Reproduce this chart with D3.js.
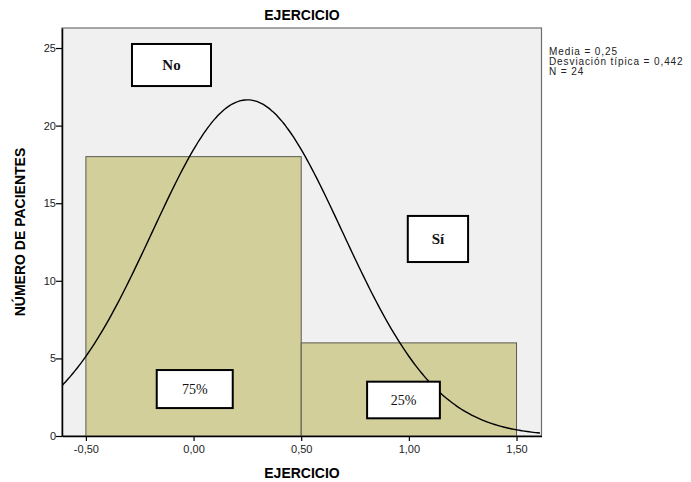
<!doctype html>
<html>
<head>
<meta charset="UTF-8">
<title>EJERCICIO</title>
<script src="https://d3js.org/d3.v7.min.js"></script>
<style>
  body { margin: 0; background: #ffffff; }
</style>
</head>
<body>
<script>

// -------------------------------------- data

var binStarts = [-0.5, 0.5];
var binEnds   = [0.5, 1.5];
var binCounts = [18, 6];
var xTicks = [-0.5, 0, 0.5, 1, 1.5];
var yTicks = [0, 5, 10, 15, 20, 25];
var statLines = ["Media = 0,25", "Desviación típica = 0,442", "N = 24"];
var stat_mean = 0.25, stat_sd = 0.442, stat_n = 24, bin_width = 1;

// label boxes: [x0, x1, y0, y1] in data units
var boxLabels = ["No", "Sí", "75%", "25%"];
var boxBold   = [true, true, false, false];
var boxX      = [[-0.286, 0.081], [0.995, 1.275], [-0.171, 0.182], [0.806, 1.144]];
var boxY      = [[25.26, 22.55], [14.18, 11.21], [4.25, 1.8], [3.5, 1.14]];

// -------------------------------------- colours

var back_col = "#f0f0f0";
var bar_col = "#d3cf9b";
var bar_stroke = "#5a5a50";
var frame_col = "#6e6e6e";
var text_col = "#222222";

// -------------------------------------- svg

var W = 691, H = 482;
var plot = { left: 62, right: 541.5, top: 28, bottom: 436 };

var svg = d3.select("body").append("svg")
  .attr("width", W).attr("height", H)
  .style("display", "block")
  .style("font-family", "Arial, 'Liberation Sans', sans-serif");

var x = d3.scaleLinear().domain([-0.611, 1.616]).range([plot.left, plot.right]);
var y = d3.scaleLinear().domain([0, 26.29]).range([plot.bottom, plot.top]);

// plot background
svg.append("rect")
  .attr("x", plot.left).attr("y", plot.top)
  .attr("width", plot.right - plot.left).attr("height", plot.bottom - plot.top)
  .style("fill", back_col)
  .style("stroke", frame_col)
  .style("stroke-width", 1.2);

svg.append("clipPath").attr("id", "clip")
  .append("rect")
  .attr("x", plot.left).attr("y", plot.top)
  .attr("width", plot.right - plot.left).attr("height", plot.bottom - plot.top);

// bars
svg.selectAll("rect.bar")
  .data(binCounts)
  .enter().append("rect")
  .attr("class", "bar")
  .attr("x", (d, i) => x(binStarts[i]))
  .attr("width", (d, i) => x(binEnds[i]) - x(binStarts[i]))
  .attr("y", d => y(d))
  .attr("height", d => y(0) - y(d))
  .style("fill", bar_col)
  .style("stroke", bar_stroke)
  .style("stroke-width", 1);

// normal curve from the reported statistics
var curveX = d3.range(x.domain()[0], x.domain()[1] + 0.001, 0.01);
var normal = function(v) {
  var z = (v - stat_mean) / stat_sd;
  return stat_n * bin_width / (stat_sd * Math.sqrt(2 * Math.PI)) * Math.exp(-0.5 * z * z);
};
svg.append("path")
  .datum(curveX)
  .attr("clip-path", "url(#clip)")
  .attr("d", d3.line().x(d => x(d)).y(d => y(normal(d))).curve(d3.curveBasis))
  .style("fill", "none")
  .style("stroke", "#000")
  .style("stroke-width", 1.4);

// label boxes
var boxes = svg.selectAll("g.box")
  .data(boxLabels)
  .enter().append("g")
  .attr("class", "box");

boxes.append("rect")
  .attr("x", (d, i) => x(boxX[i][0]))
  .attr("y", (d, i) => y(boxY[i][0]))
  .attr("width", (d, i) => x(boxX[i][1]) - x(boxX[i][0]))
  .attr("height", (d, i) => y(boxY[i][1]) - y(boxY[i][0]))
  .style("fill", "#fff")
  .style("stroke", "#000")
  .style("stroke-width", 2);

boxes.append("text")
  .attr("x", (d, i) => (x(boxX[i][0]) + x(boxX[i][1])) / 2)
  .attr("y", (d, i) => (y(boxY[i][0]) + y(boxY[i][1])) / 2 + 5)
  .attr("text-anchor", "middle")
  .style("font-family", "'Liberation Serif', 'Times New Roman', serif")
  .style("font-size", (d, i) => boxBold[i] ? "15px" : "14px")
  .style("font-weight", (d, i) => boxBold[i] ? "bold" : "normal")
  .style("fill", "#111")
  .text(d => d);

// axes
var xAxis = svg.append("g")
  .attr("transform", "translate(0," + plot.bottom + ")")
  .call(d3.axisBottom(x).tickValues(xTicks).tickSize(5).tickSizeOuter(0)
    .tickFormat(d => d3.format(".2f")(d).replace(".", ",").replace("−", "-")));

var yAxis = svg.append("g")
  .attr("transform", "translate(" + plot.left + ",0)")
  .call(d3.axisLeft(y).tickValues(yTicks).tickSize(6).tickSizeOuter(0));

[xAxis, yAxis].forEach(function(a) {
  a.select(".domain").style("stroke", "#000").style("stroke-width", 1.5);
  a.selectAll(".tick line").style("stroke", "#000").style("stroke-width", 1.2);
  a.selectAll(".tick text")
    .style("font-family", "Arial, 'Liberation Sans', sans-serif")
    .style("font-size", "11px")
    .style("fill", text_col);
});
yAxis.selectAll(".tick text").attr("x", -6);
xAxis.selectAll(".tick text").attr("y", 9);

// titles
svg.append("text")
  .attr("x", 302).attr("y", 20)
  .attr("text-anchor", "middle")
  .style("font-size", "14px").style("font-weight", "bold")
  .style("fill", "#000")
  .text("EJERCICIO");

svg.append("text")
  .attr("x", 302).attr("y", 478)
  .attr("text-anchor", "middle")
  .style("font-size", "14px").style("font-weight", "bold")
  .style("fill", "#000")
  .text("EJERCICIO");

svg.append("text")
  .attr("transform", "translate(25,232) rotate(-90)")
  .attr("text-anchor", "middle")
  .style("font-size", "14px").style("font-weight", "bold")
  .style("fill", "#000")
  .text("NÚMERO DE PACIENTES");

// statistics
svg.append("g").selectAll("text")
  .data(statLines)
  .enter().append("text")
  .attr("x", 549)
  .attr("y", (d, i) => 55 + i * 10)
  .style("font-size", "10px")
  .style("letter-spacing", "0.9px")
  .style("fill", text_col)
  .text(d => d);

</script>
</body>
</html>
